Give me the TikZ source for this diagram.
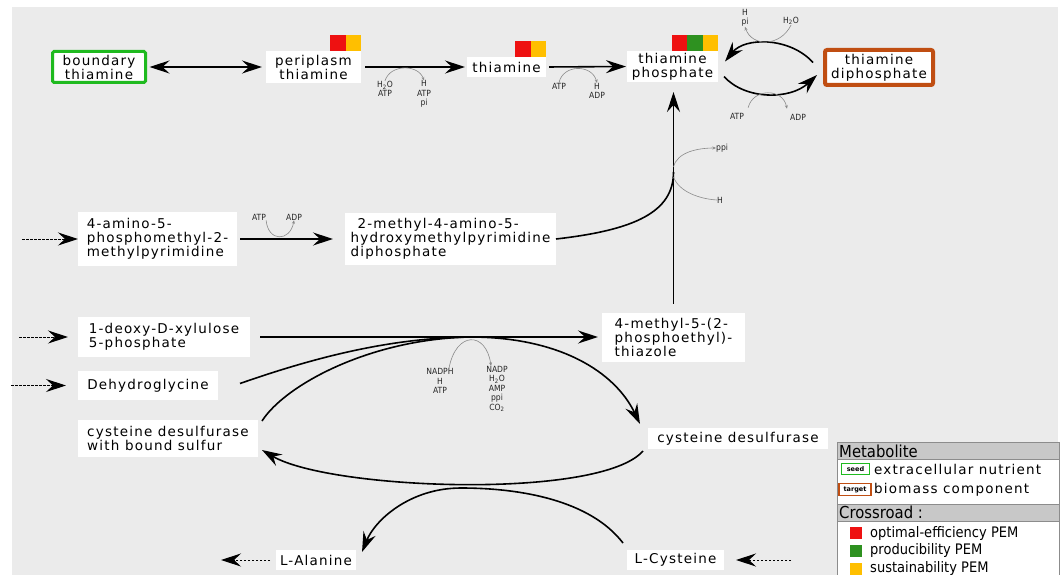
\documentclass[tikz,border=0pt]{standalone}
\usepackage{fontspec}
\setmainfont{DejaVu Sans}
\newfontfamily\lblfont{DejaVu Sans}[LetterSpace=9]
\newfontfamily\smfont{DejaVu Sans Condensed}
\usetikzlibrary{arrows.meta}
\definecolor{bg}{HTML}{EBEBEB}
\definecolor{pemred}{HTML}{EE1111}
\definecolor{pemgreen}{HTML}{2E9120}
\definecolor{pemorange}{HTML}{FFBF00}
\definecolor{seedgreen}{HTML}{1FBA1F}
\definecolor{targetbrown}{HTML}{C04E12}
\definecolor{sidegray}{HTML}{8A8A8A}
\definecolor{leggray}{HTML}{C8C8C8}
\definecolor{legborder}{HTML}{8C8C8C}
\tikzset{bigtip/.tip={Stealth[length=20pt,width=13pt,inset=7pt]}}
\begin{document}
\begin{tikzpicture}[x=1pt,y=-1pt,
  met/.style={fill=white,inner sep=0pt,outer sep=0pt,align=center,font=\lblfont\fontsize{13.5}{14}\selectfont},
  seedbox/.style={met,draw=seedgreen,line width=3pt,rounded corners=1.5pt},
  targetbox/.style={met,draw=targetbrown,line width=4pt,rounded corners=2pt},
  sq/.style={minimum size=15.5pt,inner sep=0pt,outer sep=0pt,anchor=south east},
  reac/.style={line width=1.6pt,-bigtip},
  feed/.style={line width=1pt,dash pattern=on 2.5pt off 1.5pt,-bigtip},
  side/.style={draw=sidegray,line width=0.6pt},
  sidearr/.style={side,-{Stealth[length=3.5pt,width=3pt]}},
  cof/.style={inner sep=0pt,align=center,font=\smfont\fontsize{8.5}{9.5}\selectfont,text=black!85},
  hdr/.style={anchor=west,inner sep=0pt,font=\smfont\fontsize{16.5}{18}\selectfont},
  legtxt/.style={anchor=west,inner sep=0pt,font=\lblfont\fontsize{13.5}{14}\selectfont},
  pemtxt/.style={anchor=west,inner sep=0pt,font=\smfont\fontsize{14.5}{16}\selectfont},
  legsq/.style={minimum size=12pt,inner sep=0pt}
]
\useasboundingbox (0,0) rectangle (1062,575);
\fill[bg] (12,7) rectangle (1058,575);

% ---------- metabolites ----------
\node[seedbox, minimum width=93pt, minimum height=31pt] (bnd) at (99,67) {boundary\\thiamine};
\node[met, minimum width=95pt, minimum height=32pt] (peri) at (313.5,67) {periplasm\\thiamine};
\node[met, minimum width=79pt, minimum height=20pt] (thi) at (506.5,67) {thiamine};
\node[met, minimum width=91pt, minimum height=31pt] (tp) at (672.5,66.5) {thiamine\\phosphate};
\node[targetbox, minimum width=108pt, minimum height=35pt] (tdp) at (879,67.5) {thiamine\\diphosphate};

\node[met, align=left, minimum width=159pt, minimum height=54pt] (amp) at (157.5,239) {4-amino-5-\\phosphomethyl-2-\\methylpyrimidine};
\node[met, align=left, minimum width=211pt, minimum height=52pt] (hmp) at (450.5,239) {\hspace*{7pt}2-methyl-4-amino-5-\\hydroxymethylpyrimidine\\diphosphate};
\node[met, align=left, minimum width=143pt, minimum height=49pt] (thz) at (673.5,337) {4-methyl-5-(2-\\phosphoethyl)-\\thiazole};
\node[met, align=left, minimum width=172pt, minimum height=40pt] (dxp) at (164,337) {1-deoxy-D-xylulose\\5-phosphate};
\node[met, minimum width=140pt, minimum height=29pt] (dhg) at (148,385.5) {Dehydroglycine};
\node[met, align=left, minimum width=180pt, minimum height=37pt] (cdss) at (168,438.5) {cysteine desulfurase\\with bound sulfur};
\node[met, minimum width=180pt, minimum height=21pt] (cds) at (738,438.5) {cysteine desulfurase};
\node[met, minimum width=80pt, minimum height=20pt] (ala) at (316,560) {L-Alanine};
\node[met, minimum width=97pt, minimum height=20pt] (cys) at (675.5,560) {L-Cysteine};

% ---------- crossroad squares ----------
\node[sq, fill=pemorange] (peri-o) at (peri.north east) {};
\node[sq, fill=pemred] (peri-r) at (peri-o.south west) {};
\node[sq, fill=pemorange] (thi-o) at (thi.north east) {};
\node[sq, fill=pemred] (thi-r) at (thi-o.south west) {};
\node[sq, fill=pemorange] (tp-o) at (tp.north east) {};
\node[sq, fill=pemgreen] (tp-g) at (tp-o.south west) {};
\node[sq, fill=pemred] (tp-r) at (tp-g.south west) {};

% ---------- cofactor labels ----------
\node[cof] (c1a) at (385,89) {H\textsubscript{2}O\\ATP};
\node[cof] (c1b) at (424,94) {H\\ATP\\pi};
\node[cof] (c2a) at (559,86) {ATP};
\node[cof] (c2b) at (597,91) {H\\ADP};
\node[cof] (c3a) at (791,21) {H\textsubscript{2}O};
\node[cof] (c3b) at (745,18) {H\\pi};
\node[cof] (c4a) at (737,116) {ATP};
\node[cof] (c4b) at (798,117) {ADP};
\node[cof] (c5a) at (259,217) {ATP};
\node[cof] (c5b) at (294,217) {ADP};
\node[cof] (c6a) at (440,381) {NADPH\\H\\ATP};
\node[cof] (c6b) at (497,389) {NADP\\H\textsubscript{2}O\\AMP\\ppi\\CO\textsubscript{2}};
\node[cof, anchor=west] (c7a) at (716,148) {ppi};
\node[cof, anchor=west] (c7b) at (717,200) {H};

% ---------- hubs ----------
\coordinate (hub1) at (470,337);
\coordinate (hub2) at (673.5,172);
\coordinate (hub3) at (461,488);
\coordinate (f1) at (22,239);
\coordinate (f2) at (19,337);
\coordinate (f3) at (11,385.5);
\coordinate (f4) at (791,560);
\coordinate (f5) at (221,560);

% ---------- reactions ----------
\draw[line width=1.6pt, bigtip-bigtip, shorten <=4pt, shorten >=4pt] (bnd.east) -- (peri.west);
\draw[reac, shorten <=4pt, shorten >=2pt] (peri.east) -- (thi.west);
\draw[sidearr] (c1a.north) .. controls (390,64) and (418,64) .. (c1b.north);
\draw[reac, shorten <=3pt, shorten >=1pt] (thi.east) -- (tp.west);
\draw[sidearr] (c2a.north) .. controls (563,64) and (592,64) .. (c2b.north);

\draw[reac] ([xshift=-12pt,yshift=5pt]tdp.west) .. controls (790,37) and (745,37) .. ([xshift=7pt,yshift=5pt]tp.east);
\draw[sidearr] (c3a.south) .. controls (780,47) and (752,47) .. (c3b.south);
\draw[reac] ([xshift=6pt,yshift=-10pt]tp.east) .. controls (745,100) and (790,100) .. ([xshift=-8pt,yshift=-7.5pt]tdp.west);
\draw[sidearr] ([xshift=4pt,yshift=5pt]c4a.north east) .. controls (753,88) and (783,88) .. ([xshift=-3pt,yshift=5pt]c4b.north west);

\draw[feed] (f1) -- (amp.west);
\draw[reac, shorten <=3pt, shorten >=12pt] (amp.east) -- (hmp.west);
\draw[sidearr] (c5a.south east) .. controls (268,242) and (290,242) .. (c5b.south);

\draw[reac, shorten <=9pt, shorten >=10pt] (thz.north) -- (thz.north |- tp.south);
\draw[line width=1.6pt] (hmp.east) .. controls (635,230) and (673.5,212) .. (hub2);
\draw[sidearr] ([yshift=5pt]hub2) .. controls (677,152) and (698,148) .. (c7a.west);
\draw[side] ([yshift=-5pt]hub2) .. controls (679,192) and (700,199) .. (c7b.west);

\draw[feed] (f2) -- ([xshift=-10pt]dxp.west);
\draw[feed] (f3) -- ([xshift=-12pt]dhg.west);
\draw[reac, shorten <=10pt, shorten >=4pt] (dxp.east) -- (thz.west);
\draw[line width=1.6pt] ([xshift=22pt,yshift=2pt]dhg.east) .. controls (330,352) and (400,338) .. (hub1);
\draw[line width=1.6pt] ([xshift=4pt,yshift=-1pt]cdss.north east) .. controls (285,385) and (370,339) .. (hub1);
\draw[reac] (hub1) .. controls (560,337) and (615,372) .. ([xshift=-8pt,yshift=4pt]cds.north west);
\draw[sidearr] ([xshift=9pt]c6a.north) .. controls (456,331) and (486,331) .. ([xshift=-6pt]c6b.north);

\draw[reac] ([xshift=-5pt,yshift=-2pt]cds.south west) .. controls (600,500) and (330,490) .. ([xshift=4pt,yshift=7pt]cdss.south east);
\draw[reac] ([xshift=-4pt,yshift=7pt]cys.north west) .. controls (590,500) and (520,488) .. (hub3) .. controls (410,488) and (375,520) .. ([xshift=6pt,yshift=-2pt]ala.north east);
\draw[feed] (f4) -- ([xshift=12pt]cys.east);
\draw[feed] ([xshift=-6pt]ala.west) -- (f5);

% ---------- legend ----------
\filldraw[fill=white, draw=legborder, line width=0.8pt] (837,442) rectangle (1059,580);
\filldraw[fill=leggray, draw=legborder, line width=0.8pt] (837,442) rectangle (1059,459);
\node[hdr] (lmet) at (839,451) {Metabolite};
\node[draw=seedgreen, line width=1.2pt, inner sep=0pt, minimum width=28pt, minimum height=11pt, font=\bfseries\fontsize{6.5}{7}\selectfont] (lseed) at (855.5,469) {seed};
\node[legtxt] (lseedt) at (874,469) {extracellular nutrient};
\node[draw=targetbrown, line width=1.2pt, inner sep=0pt, minimum width=32pt, minimum height=12pt, font=\bfseries\fontsize{6.5}{7}\selectfont] (ltarget) at (855,489.5) {target};
\node[legtxt] (ltargett) at (874,490) {biomass component};
\filldraw[fill=leggray, draw=legborder, line width=0.8pt] (837,504) rectangle (1059,521);
\node[hdr] (lcross) at (839,512.5) {Crossroad :};
\node[legsq, fill=pemred] (lr) at (856,533) {};
\node[pemtxt] (lrt) at (870,533) {optimal-efficiency PEM};
\node[legsq, fill=pemgreen] (lg) at (856,551) {};
\node[pemtxt] (lgt) at (870,550.5) {producibility PEM};
\node[legsq, fill=pemorange] (lo) at (856,569) {};
\node[pemtxt] (lot) at (870,568) {sustainability PEM};
\end{tikzpicture}
\end{document}
